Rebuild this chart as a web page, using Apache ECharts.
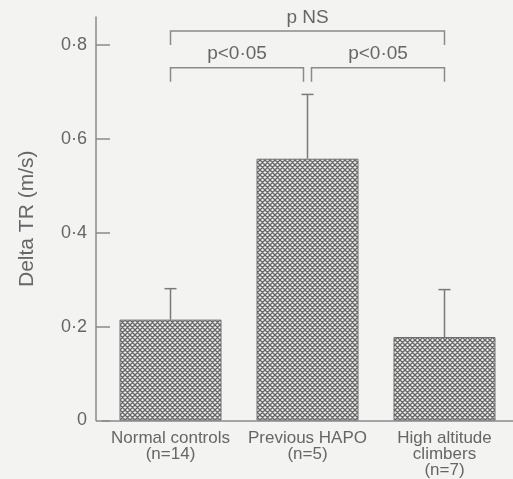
<!DOCTYPE html>
<html>
<head>
<meta charset="utf-8">
<script src="https://cdn.jsdelivr.net/npm/echarts@6/dist/echarts.min.js"></script>
<style>
  html, body { margin: 0; padding: 0; background: #f3f3f1; }
  #chart { width: 513px; height: 479px; }
</style>
</head>
<body>
<div id="chart"></div>
<script>
// data
const categories = ['Normal controls\n(n=14)', 'Previous HAPO\n(n=5)', 'High altitude\nclimbers\n(n=7)']
const means = [0.215, 0.558, 0.178]
const upper = [0.281, 0.695, 0.279]   // mean + SD (error bar tops)
const yTicks = [0, 0.2, 0.4, 0.6, 0.8]

// significance brackets
const bracketFrom = [0, 0, 1]
const bracketTo = [2, 1, 2]
const bracketLevel = [0.83, 0.752, 0.752]
const bracketLabels = ['p NS', 'p<0·05', 'p<0·05']

const ink = '#666666'
const font = '"Liberation Sans", Arial, sans-serif'

// cross hatch fill like the printed bars
function hatch() {
  const c = document.createElement('canvas')
  c.width = 5; c.height = 5
  const g = c.getContext('2d')
  g.fillStyle = '#eeeeee'
  g.fillRect(0, 0, 5, 5)
  g.strokeStyle = '#666666'
  g.lineWidth = 1.35
  g.beginPath()
  g.moveTo(-1, -1); g.lineTo(6, 6)
  g.moveTo(-1, 6); g.lineTo(6, -1)
  g.moveTo(-1, 4); g.lineTo(1, 6)
  g.moveTo(4, -1); g.lineTo(6, 1)
  g.moveTo(-1, 1); g.lineTo(1, -1)
  g.moveTo(4, 6); g.lineTo(6, 4)
  g.stroke()
  return c
}

const myChart = echarts.init(document.getElementById('chart'))

const errData = means.map((m, i) => [i, m, upper[i]])
const brData = bracketFrom.map((f, i) => [f, bracketTo[i], bracketLevel[i], i])

const option = {
  backgroundColor: '#f3f3f1',
  animation: false,
  grid: { left: 102, right: 0, top: 17, bottom: 56, containLabel: false },
  xAxis: {
    type: 'category',
    data: categories,
    axisLine: { lineStyle: { color: '#8a8a8a', width: 1.5 } },
    axisTick: { show: false },
    axisLabel: { color: ink, fontSize: 17, lineHeight: 16, fontFamily: font, margin: 10, interval: 0 }
  },
  yAxis: {
    type: 'value',
    min: 0,
    max: 0.86,
    offset: 6,
    name: 'Delta TR (m/s)',
    nameLocation: 'middle',
    nameRotate: 90,
    nameGap: 58,
    nameTextStyle: { color: ink, fontSize: 21, fontFamily: font },
    splitLine: { show: false },
    axisLine: { show: true, lineStyle: { color: '#8a8a8a', width: 1.5 } },
    axisTick: { show: true, inside: true, length: 14, customValues: yTicks, lineStyle: { color: '#8a8a8a', width: 1.5 } },
    axisLabel: {
      customValues: yTicks,
      color: ink, fontSize: 18, fontFamily: font, margin: 9,
      formatter: v => v === 0 ? '0' : v.toFixed(1).replace('.', '·')
    }
  },
  series: [
    {
      type: 'bar',
      data: means,
      barWidth: 102,
      itemStyle: {
        color: { image: hatch(), repeat: 'repeat' },
        borderColor: '#6e6e6e',
        borderWidth: 1
      }
    },
    {
      type: 'custom',
      data: errData,
      z: 1,
      renderItem: (params, api) => {
        const a = api.coord([api.value(0), api.value(1)])
        const b = api.coord([api.value(0), api.value(2)])
        const st = { stroke: '#7a7a7a', lineWidth: 1.5 }
        return {
          type: 'group',
          children: [
            { type: 'line', shape: { x1: a[0], y1: a[1], x2: b[0], y2: b[1] }, style: st },
            { type: 'line', shape: { x1: b[0] - 6, y1: b[1], x2: b[0] + 6, y2: b[1] }, style: st }
          ]
        }
      }
    },
    {
      type: 'custom',
      data: brData,
      renderItem: (params, api) => {
        const i = api.value(3)
        const p0 = api.coord([api.value(0), api.value(2)])
        const p1 = api.coord([api.value(1), api.value(2)])
        // inner brackets stop short of the shared middle bar
        const inner = bracketTo[i] - bracketFrom[i] === 1
        const x0 = p0[0] + (inner && bracketFrom[i] === 1 ? 4 : 0)
        const x1 = p1[0] - (inner && bracketTo[i] === 1 ? 4 : 0)
        const y = p0[1]
        const drop = 14
        const st = { stroke: '#8a8a8a', lineWidth: 1.5, fill: null }
        return {
          type: 'group',
          children: [
            { type: 'polyline', shape: { points: [[x0, y + drop], [x0, y], [x1, y], [x1, y + drop]] }, style: st },
            {
              type: 'text',
              style: {
                text: bracketLabels[i],
                x: (x0 + x1) / 2,
                y: y - 4,
                textAlign: 'center',
                textVerticalAlign: 'bottom',
                fill: ink,
                font: '19px ' + font
              }
            }
          ]
        }
      }
    }
  ]
}

myChart.setOption(option)
window.onresize = () => {
  myChart.resize()
}
</script>
</body>
</html>
